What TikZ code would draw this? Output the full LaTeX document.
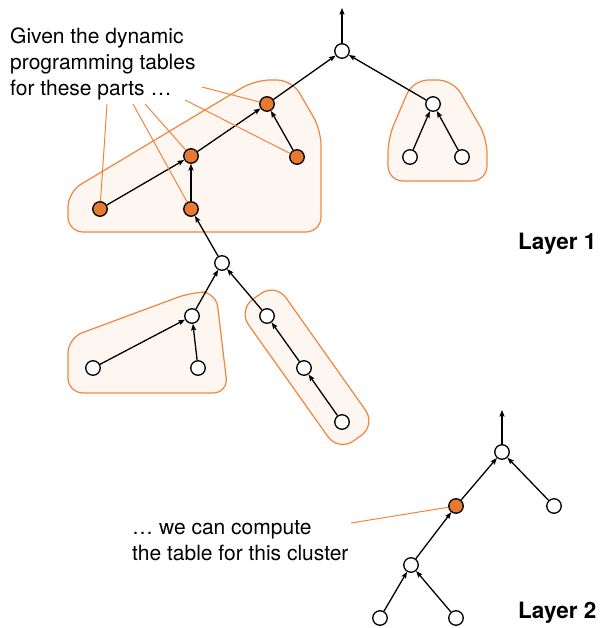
\documentclass[tikz,border=0pt]{standalone}
\usepackage{fontspec}
\setmainfont{TeX Gyre Heros}
\usetikzlibrary{arrows.meta}

\definecolor{clusterline}{RGB}{240, 134, 62}
\definecolor{clusterfill}{RGB}{253, 246, 241}
\definecolor{hotnode}{RGB}{232, 121, 48}

\tikzset{
  vertex/.style = {circle, draw, line width = 1.3pt, fill = white,
    minimum size = 14.5pt, inner sep = 0pt},
  hot/.style = {vertex, fill = hotnode},
  edge/.style = {line width = 1.3pt,
    -{Stealth[length = 6.5pt, width = 5pt, inset = 1pt]}},
  cluster/.style = {draw = clusterline, fill = clusterfill,
    line width = 1.2pt, rounded corners = 15pt},
  leader/.style = {draw = clusterline, line width = 1pt},
  caption/.style = {align = left, inner sep = 0pt,
    font = \fontsize{21}{26}\selectfont},
  layer/.style = {inner sep = 0pt, font = \fontsize{22.5}{26}\selectfont\bfseries}
}

\begin{document}
\begin{tikzpicture}[x = 1pt, y = -1pt]
  \useasboundingbox (0, 0) rectangle (603, 628);

  \draw[cluster] (68, 232) -- (68, 192) -- (255, 80) -- (292, 80)
    -- (321, 130) -- (321, 232) -- cycle;
  \draw[cluster] (388, 181) -- (388, 138) -- (413, 80) -- (453, 80)
    -- (487, 138) -- (487, 181) -- cycle;
  \draw[cluster] (68, 393) -- (68, 338) -- (192, 292) -- (216, 292)
    -- (228, 393) -- cycle;
  \draw[cluster, rounded corners = 18pt] (238, 310) -- (275.5, 283)
    -- (376, 425) -- (338.5, 451.5) -- cycle;

  \node[vertex] (R) at (342, 51) {};
  \node[hot] (A) at (267, 104) {};
  \node[hot] (B) at (191, 156) {};
  \node[hot] (C) at (297, 157) {};
  \node[hot] (D) at (100, 209) {};
  \node[hot] (E) at (191, 209) {};
  \node[vertex] (F) at (222, 263) {};
  \node[vertex] (G) at (433, 104) {};
  \node[vertex] (H) at (410, 157) {};
  \node[vertex] (I) at (462, 157) {};
  \node[vertex] (J) at (192, 316) {};
  \node[vertex] (K) at (267, 316) {};
  \node[vertex] (L) at (93, 368) {};
  \node[vertex] (M) at (198, 368) {};
  \node[vertex] (N) at (304, 368) {};
  \node[vertex] (O) at (342, 422) {};
  \coordinate (Rtop) at (342, 8);

  \node[vertex] (P) at (502, 452) {};
  \node[hot] (Q) at (456, 506) {};
  \node[vertex] (S) at (554, 506) {};
  \node[vertex] (T) at (411, 565) {};
  \node[vertex] (U) at (380, 618) {};
  \node[vertex] (V) at (456, 618) {};
  \coordinate (Ptop) at (502, 410);

  \foreach \from/\to in {D/B, E/B, B/A, C/A, A/R, F/E, G/R, H/G, I/G,
      J/F, K/F, L/J, M/J, N/K, O/N, R/Rtop,
      Q/P, S/P, T/Q, U/T, V/T, P/Ptop}
    \draw[edge] (\from) -- (\to);

  \node[caption, anchor = north west] (given) at (10, 28)
    {Given the dynamic\\programming tables\\for these parts …};
  \node[caption, anchor = north west] (compute) at (132, 520)
    {… we can compute\\the table for this cluster};

  \coordinate (g1) at (107, 104);
  \coordinate (g2) at (133, 104);
  \coordinate (g3) at (145, 104);
  \coordinate (g4) at (185, 100);
  \coordinate (g5) at (202, 87);
  \coordinate (c1) at (351, 523);
  \draw[leader] (g1) -- (D);
  \draw[leader] (g2) -- (E);
  \draw[leader] (g3) -- (B);
  \draw[leader] (g4) -- (C);
  \draw[leader] (g5) -- (A);
  \draw[leader] (c1) -- (Q);

  \node[layer, anchor = base west] (layer1) at (518, 249) {Layer 1};
  \node[layer, anchor = base west] (layer2) at (518, 618) {Layer 2};
\end{tikzpicture}
\end{document}
